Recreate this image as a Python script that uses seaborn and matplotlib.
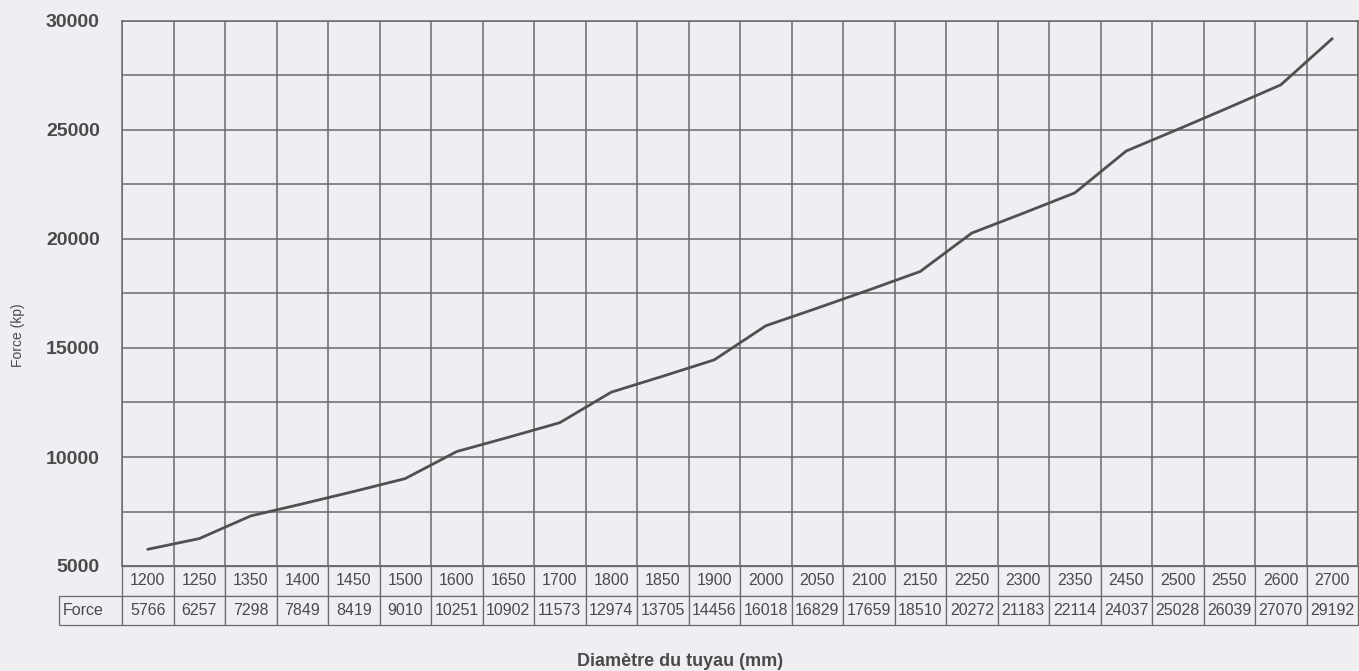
import numpy as np
import pandas as pd
import matplotlib.pyplot as plt
import seaborn as sns

# Pipe diameter (mm) and corresponding force (kp)
diameters = ['1200', '1250', '1350', '1400', '1450', '1500', '1600', '1650',
             '1700', '1800', '1850', '1900', '2000', '2050', '2100', '2150',
             '2250', '2300', '2350', '2450', '2500', '2550', '2600', '2700']
force = [5766, 6257, 7298, 7849, 8419, 9010, 10251, 10902, 11573, 12974,
         13705, 14456, 16018, 16829, 17659, 18510, 20272, 21183, 22114,
         24037, 25028, 26039, 27070, 29192]
row_label = 'Force'
y_ticks = [5000, 10000, 15000, 20000, 25000, 30000]

df = pd.DataFrame({'pos': np.arange(len(diameters)), 'Force': force})

sns.set_theme(style="white")
plt.rcParams['font.family'] = ['Liberation Sans', 'DejaVu Sans']

paper = '#efeef3'
grid_c = '#6a6a6a'
text_c = '#4a4a4a'

W, H = 1359, 671
fig = plt.figure(figsize=(W / 100, H / 100), dpi=100, facecolor=paper)
left, right, top, bottom = 122, 1358, 21, 566
ax = fig.add_axes([left / W, 1 - bottom / H, (right - left) / W, (bottom - top) / H])
ax.set_facecolor(paper)

sns.lineplot(data=df, x='pos', y='Force', color='#505050', linewidth=2, ax=ax)

n = len(diameters)
ax.set_xlim(-0.5, n - 0.5)
ax.set_ylim(5000, 30000)

# vertical grid at category boundaries
ax.set_xticks(np.arange(-0.5, n, 1.0), minor=True)
ax.set_xticks([])
ax.grid(which='minor', axis='x', color=grid_c, linewidth=1.1)

# horizontal grid every 2500, labels every 5000
ax.set_yticks(y_ticks)
ax.set_yticklabels([str(v) for v in y_ticks], fontsize=14, fontweight='bold', color=text_c)
ax.set_yticks(np.arange(7500, 30000, 5000), minor=True)
ax.grid(which='both', axis='y', color=grid_c, linewidth=1.1)
ax.tick_params(axis='y', which='major', length=3, width=1.1, color=grid_c, pad=13)
ax.tick_params(axis='y', which='minor', length=0)
ax.tick_params(axis='x', which='both', length=0)
for s in ax.spines.values():
    s.set_color(grid_c)
    s.set_linewidth(1.1)

ax.set_xlabel('')
ax.set_ylabel('Force (kp)', fontsize=10, color=text_c)
ax.yaxis.set_label_coords((25 - left) / (right - left), (bottom - 335) / (bottom - top))

# data table under the plot
axw = right - left
axh = bottom - top
tbl_left = 59
tbl_bottom = 625
cell_text = [[''] + diameters, [row_label] + [str(v) for v in force]]
label_w = (left - tbl_left) / axw
col_w = 1.0 / n
tbl = ax.table(cellText=cell_text,
               colWidths=[label_w] + [col_w] * n,
               cellLoc='center',
               bbox=[-label_w, -(tbl_bottom - bottom) / axh, 1 + label_w, (tbl_bottom - bottom) / axh])
tbl.auto_set_font_size(False)
for (r, c), cell in tbl.get_celld().items():
    cell.set_facecolor(paper)
    cell.set_edgecolor(grid_c)
    cell.set_linewidth(0.9)
    cell.get_text().set_fontsize(11.5)
    cell.get_text().set_color(text_c)
    if r == 0 and c == 0:
        cell.visible_edges = ''
    if c == 0 and r == 1:
        cell.get_text().set_ha('left')
        cell.PAD = 0.06

fig.text(680 / W, 1 - 662 / H, 'Diamètre du tuyau (mm)', ha='center', va='center',
         fontsize=13, fontweight='bold', color=text_c)

fig.savefig('out.png', dpi=100, facecolor=paper)
